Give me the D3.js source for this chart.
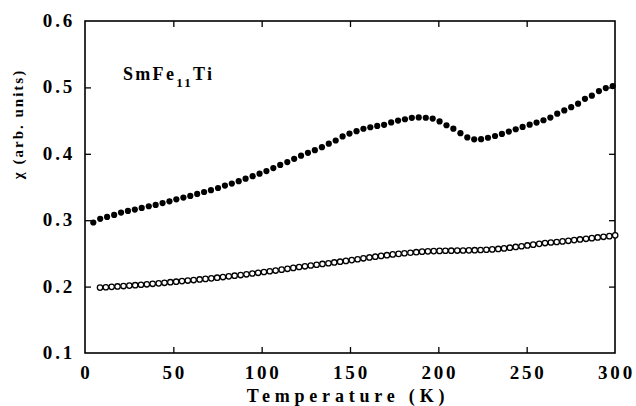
<!DOCTYPE html>
<html><head><meta charset="utf-8">
<script src="https://cdn.jsdelivr.net/npm/d3@7"></script>
<style>
html,body{margin:0;padding:0;background:#fff;}
svg text{font-family:"Liberation Serif","Times New Roman",serif;font-weight:bold;fill:#000;}
</style></head>
<body><svg id="c" width="636" height="406"></svg>
<script>
// Filled circles (upper curve)
const tempFilled = [4.7,8.6,12.5,16.5,20.4,24.3,28.2,32.1,36.1,40.0,43.9,47.8,51.7,55.7,59.6,63.5,67.4,71.3,75.3,79.2,83.1,87.0,90.9,94.9,98.8,102.7,106.6,110.5,114.5,118.4,122.3,126.2,130.1,134.1,138.0,141.9,145.8,149.7,153.7,157.6,161.5,165.4,169.3,173.3,177.2,181.1,185.0,188.9,192.9,196.8,200.7,204.6,208.5,212.5,216.4,220.3,224.2,228.1,232.1,236.0,239.9,243.8,247.7,251.7,255.6,259.5,263.4,267.3,271.3,275.2,279.1,283.0,286.9,290.9,294.8,298.7];
const chiFilled = [0.2965,0.302,0.305,0.308,0.3115,0.314,0.316,0.3185,0.321,0.323,0.3258,0.3285,0.3315,0.334,0.3365,0.3395,0.3425,0.3452,0.3485,0.3522,0.3552,0.3588,0.3625,0.3663,0.370,0.374,0.3785,0.3833,0.3876,0.3925,0.3972,0.4015,0.4055,0.410,0.4152,0.420,0.4262,0.4305,0.434,0.4377,0.440,0.442,0.4437,0.4472,0.450,0.452,0.4542,0.4548,0.4543,0.453,0.4487,0.443,0.4378,0.431,0.4246,0.4218,0.422,0.4242,0.4268,0.4300,0.4334,0.437,0.4405,0.4438,0.4470,0.4505,0.4545,0.4605,0.4653,0.4702,0.4755,0.4828,0.4875,0.4945,0.4990,0.5020];
// Open circles (lower curve)
const tempOpen = [8.5,11.8,15.1,18.4,21.8,25.1,28.4,31.7,35.0,38.3,41.7,45.0,48.3,51.6,54.9,58.2,61.5,64.9,68.2,71.5,74.8,78.1,81.4,84.7,88.1,91.4,94.7,98.0,101.3,104.6,107.9,111.3,114.6,117.9,121.2,124.5,127.8,131.1,134.4,137.8,141.1,144.4,147.7,151.0,154.3,157.6,161.0,164.3,167.6,170.9,174.2,177.5,180.8,184.2,187.5,190.8,194.1,197.4,200.7,204.0,207.3,210.7,214.0,217.3,220.6,223.9,227.2,230.5,233.9,237.2,240.5,243.8,247.1,250.4,253.7,257.1,260.4,263.7,267.0,270.3,273.6,276.9,280.2,283.6,286.9,290.2,293.5,296.8,300.1];
const chiOpen = [0.1985,0.1990,0.1996,0.2002,0.2008,0.2015,0.2021,0.2028,0.2035,0.2042,0.2049,0.2057,0.2066,0.2074,0.2083,0.2091,0.2099,0.2108,0.2116,0.2124,0.2134,0.2144,0.2154,0.2164,0.2174,0.2185,0.2197,0.2208,0.2220,0.2231,0.2242,0.2255,0.2268,0.2282,0.2295,0.2306,0.2318,0.2329,0.2341,0.2352,0.2364,0.2375,0.2387,0.2399,0.2412,0.2426,0.2439,0.2450,0.2462,0.2473,0.2485,0.2493,0.2502,0.2510,0.2518,0.2526,0.2531,0.2535,0.2538,0.2540,0.2541,0.2543,0.2544,0.2546,0.2548,0.2551,0.2555,0.2560,0.2567,0.2575,0.2586,0.2597,0.2608,0.2620,0.2632,0.2644,0.2656,0.2664,0.2672,0.2681,0.2690,0.2700,0.2710,0.2720,0.2730,0.2740,0.2750,0.2760,0.2772];
const xTicks = [0,50,100,150,200,250,300];
const yTicks = [0.1,0.2,0.3,0.4,0.5,0.6];
const xTitle = "Temperature (K)";
const yTitle = "χ (arb. units)";

const svg = d3.select("#c");
const L=85, R=615, T=21, B=353;
const x = d3.scaleLinear().domain([0,300]).range([L,R]);
const y = d3.scaleLinear().domain([0.1,0.6]).range([B,T]);

// ticks (inward) on all four sides
const tick = (g)=>g.selectAll("text").remove();
svg.append("g").attr("transform",`translate(0,${B})`)
  .call(d3.axisBottom(x).tickValues(xTicks.slice(1,-1)).tickSize(-6).tickSizeOuter(0)).call(tick)
  .call(g=>g.select(".domain").remove()).selectAll("line").attr("stroke-width",1.3);
svg.append("g").attr("transform",`translate(0,${T})`)
  .call(d3.axisTop(x).tickValues(xTicks.slice(1,-1)).tickSize(-6).tickSizeOuter(0)).call(tick)
  .call(g=>g.select(".domain").remove()).selectAll("line").attr("stroke-width",1.3);
svg.append("g").attr("transform",`translate(${L},0)`)
  .call(d3.axisLeft(y).tickValues(yTicks.slice(1,-1)).tickSize(-6).tickSizeOuter(0)).call(tick)
  .call(g=>g.select(".domain").remove()).selectAll("line").attr("stroke-width",1.3);
svg.append("g").attr("transform",`translate(${R},0)`)
  .call(d3.axisRight(y).tickValues(yTicks.slice(1,-1)).tickSize(-6).tickSizeOuter(0)).call(tick)
  .call(g=>g.select(".domain").remove()).selectAll("line").attr("stroke-width",1.3);

// frame
svg.append("rect").attr("x",L).attr("y",T).attr("width",R-L).attr("height",B-T)
  .attr("fill","none").attr("stroke","#000").attr("stroke-width",1.6);

// tick labels
svg.append("g").selectAll("text").data(xTicks).join("text")
  .attr("x",d=>x(d)+1.5).attr("y",379).attr("text-anchor","middle")
  .attr("font-size",19).attr("letter-spacing",2.8).text(d=>d);
svg.append("g").selectAll("text").data(yTicks).join("text")
  .attr("x",75).attr("y",d=>y(d)+6).attr("text-anchor","end")
  .attr("font-size",19).attr("letter-spacing",2.8).text(d=>d.toFixed(1));

// titles
svg.append("text").attr("x",348).attr("y",402).attr("text-anchor","middle")
  .attr("font-size",18).attr("letter-spacing",4.8).text(xTitle);
svg.append("text").attr("transform","translate(23,124) rotate(-90)").attr("text-anchor","middle")
  .attr("font-size",15).attr("font-weight","normal").attr("letter-spacing",2).text(yTitle);

// compound label
const lab = svg.append("text").attr("x",123).attr("y",80).attr("font-size",18).attr("letter-spacing",2.3);
lab.append("tspan").text("SmFe");
lab.append("tspan").attr("font-size",13).attr("dy",7).text("11");
lab.append("tspan").attr("dy",-7).text("Ti");

// data
svg.append("g").selectAll("circle").data(tempOpen.map((t,i)=>[t,chiOpen[i]])).join("circle")
  .attr("cx",d=>x(d[0])).attr("cy",d=>y(d[1])).attr("r",2.7)
  .attr("fill","#fff").attr("stroke","#000").attr("stroke-width",1.3);
svg.append("g").selectAll("circle").data(tempFilled.map((t,i)=>[t,chiFilled[i]])).join("circle")
  .attr("cx",d=>x(d[0])).attr("cy",d=>y(d[1])).attr("r",3.1).attr("fill","#000");
</script></body></html>
